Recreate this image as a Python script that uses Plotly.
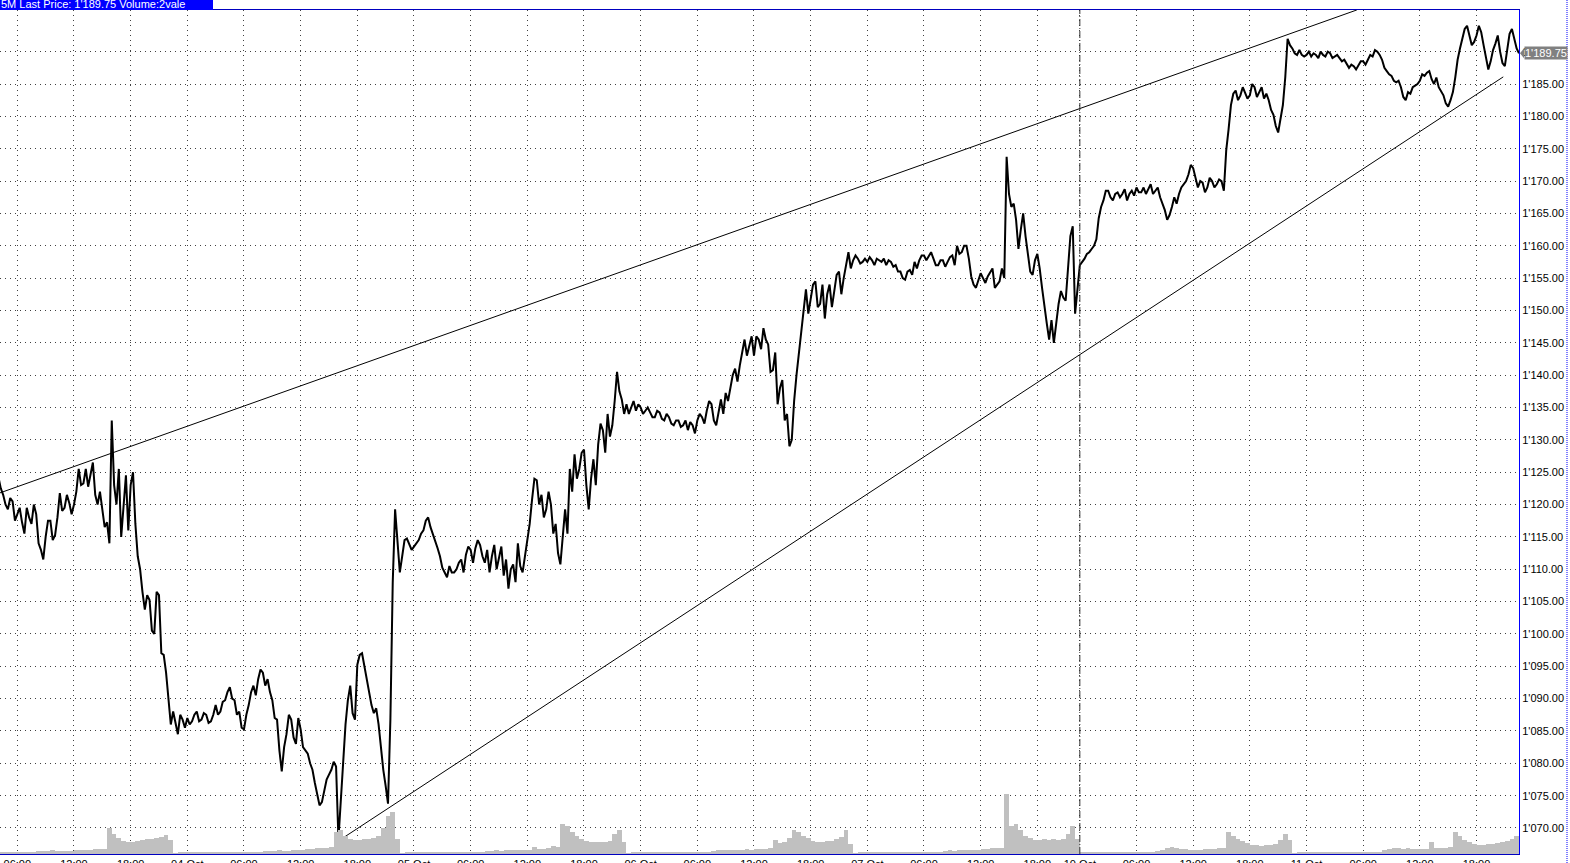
import pandas as pd
import plotly.graph_objects as go

# ---------------- data (CET) ----------------
# price_xx: values on the half hour; mid_xx: values a quarter hour later
day_starts = ["2011-10-03 04:00", "2011-10-04 00:00", "2011-10-05 00:00",
              "2011-10-06 00:00", "2011-10-07 00:00", "2011-10-10 00:00",
              "2011-10-11 00:00"]

price_03 = [1124.25, 1121.5, 1119.25, 1120.5, 1118.5, 1117.25, 1119.5, 1117.0,
            1118.5, 1113.0, 1115.0, 1117.5, 1115.25, 1121.75, 1119.5, 1120.25,
            1120.0, 1125.5, 1123.25, 1122.75, 1126.5, 1120.0, 1119.5, 1117.25,
            1133.0, 1120.0, 1115.0, 1124.5, 1123.0, 1117.0, 1110.0, 1103.75,
            1105.25, 1100.0, 1106.0, 1096.75, 1089.75, 1088.0, 1084.5, 1086.75]
mid_03 = [1122.5, 1120.0, 1121.0, 1117.5, 1119.5, 1115.5, 1118.0, 1120.0,
          1114.0, 1111.5, 1117.5, 1114.5, 1118.0, 1119.0, 1121.5, 1118.5,
          1122.0, 1123.0, 1125.5, 1124.5, 1121.5, 1122.0, 1116.5, 1114.0,
          1123.0, 1125.5, 1120.0, 1116.0, 1125.0, 1112.0, 1106.5, 1106.0,
          1100.5, 1106.5, 1097.0, 1094.0, 1086.0, 1086.0, 1087.5, 1085.5]
price_04 = [1087.0, 1086.5, 1088.0, 1086.75, 1087.5, 1086.5, 1089.0, 1088.0,
            1089.75, 1091.75, 1089.75, 1088.0, 1085.25, 1089.0, 1092.0, 1093.0,
            1094.0, 1093.0, 1089.75, 1086.75, 1078.75, 1084.5, 1086.75, 1083.0,
            1085.25, 1082.0, 1080.0, 1077.0, 1073.5, 1076.0, 1078.25, 1080.25,
            1068.25, 1080.5, 1089.75, 1087.75, 1095.25, 1097.0, 1093.25, 1089.0,
            1088.5, 1082.0, 1076.5, 1086.75, 1119.25, 1109.5, 1114.5, 1113.75]
mid_04 = [1086.0, 1087.5, 1086.5, 1087.75, 1086.25, 1087.5, 1087.5, 1089.5,
          1091.0, 1090.0, 1087.5, 1085.5, 1087.5, 1091.0, 1090.5, 1094.5,
          1092.0, 1091.0, 1087.0, 1082.0, 1082.5, 1087.5, 1084.0, 1087.0,
          1082.5, 1081.5, 1079.0, 1075.25, 1074.0, 1077.5, 1079.0, 1079.5,
          1074.5, 1086.0, 1092.0, 1086.75, 1096.75, 1095.0, 1091.0, 1087.75,
          1086.0, 1079.0, 1073.75, 1108.0, 1114.0, 1112.0, 1114.75, 1113.0]
price_05 = [1113.5, 1114.5, 1116.0, 1118.0, 1115.5, 1113.25, 1110.25, 1108.75,
            1109.5, 1110.0, 1111.5, 1112.25, 1113.0, 1113.25, 1113.75, 1111.0,
            1109.5, 1113.75, 1111.75, 1109.0, 1107.0, 1110.75, 1114.0, 1109.5,
            1113.75, 1120.75, 1123.75, 1121.5, 1119.25, 1120.0, 1117.0, 1110.75,
            1119.25, 1125.5, 1127.75, 1125.5, 1128.5, 1119.25, 1127.0, 1129.25,
            1131.5, 1134.0, 1132.25, 1140.5, 1136.25, 1135.5, 1135.0, 1134.5]
mid_05 = [1114.0, 1115.5, 1117.5, 1116.5, 1114.5, 1112.0, 1109.5, 1110.5,
          1109.5, 1111.0, 1109.5, 1113.5, 1111.0, 1114.5, 1112.0, 1113.0,
          1112.0, 1110.0, 1113.5, 1111.5, 1110.0, 1108.0, 1110.5, 1112.0,
          1117.0, 1124.0, 1120.0, 1118.0, 1122.0, 1115.5, 1112.5, 1115.0,
          1115.5, 1122.0, 1124.0, 1128.0, 1123.0, 1124.0, 1123.0, 1132.5,
          1128.0, 1130.5, 1136.0, 1137.5, 1134.0, 1134.0, 1136.0, 1135.5]
price_06 = [1135.0, 1134.5, 1134.25, 1133.5, 1134.25, 1133.0, 1133.5, 1132.25,
            1133.0, 1132.25, 1131.5, 1132.25, 1133.0, 1133.5, 1134.5, 1135.5,
            1132.25, 1136.25, 1137.25, 1138.0, 1141.0, 1141.5, 1145.5, 1144.5,
            1143.0, 1145.5, 1147.25, 1144.75, 1140.75, 1135.5, 1139.25, 1134.0,
            1130.0, 1140.0, 1147.0, 1153.25, 1151.5, 1154.5, 1151.0, 1148.75,
            1154.0, 1153.0, 1156.0, 1155.0, 1159.0, 1157.75, 1158.0, 1157.5]
mid_06 = [1134.0, 1135.0, 1133.5, 1134.5, 1133.25, 1134.0, 1132.5, 1133.0,
          1132.0, 1133.0, 1132.75, 1131.0, 1134.0, 1132.5, 1136.0, 1133.0,
          1134.5, 1134.0, 1136.0, 1140.0, 1139.0, 1143.5, 1143.0, 1146.0,
          1146.0, 1144.0, 1145.5, 1140.5, 1143.5, 1138.0, 1133.0, 1129.0,
          1136.0, 1143.5, 1149.5, 1149.5, 1154.0, 1150.5, 1154.0, 1152.5,
          1150.5, 1155.5, 1152.5, 1157.0, 1156.5, 1158.5, 1157.25, 1158.0]
price_07 = [1157.5, 1157.75, 1158.0, 1157.5, 1157.0, 1157.5, 1157.0, 1156.0,
            1154.75, 1156.25, 1157.5, 1157.75, 1158.5, 1158.5, 1158.0, 1157.0,
            1157.75, 1157.5, 1158.5, 1160.0, 1159.0, 1160.0, 1155.25, 1153.5,
            1155.75, 1154.25, 1156.0, 1153.5, 1154.5, 1155.0, 1168.0, 1166.5,
            1159.5, 1165.0, 1158.75, 1155.5, 1158.75, 1153.5, 1148.0, 1148.5,
            1148.5, 1153.0, 1151.5, 1161.5, 1149.5]
mid_07 = [1158.25, 1157.0, 1157.75, 1158.0, 1157.75, 1156.75, 1156.0, 1155.0,
          1156.0, 1155.5, 1156.5, 1158.5, 1157.75, 1159.0, 1157.0, 1157.75,
          1156.75, 1158.25, 1157.0, 1158.75, 1160.0, 1158.0, 1154.0, 1154.75,
          1155.0, 1155.25, 1156.5, 1154.0, 1156.5, 1173.75, 1166.0, 1164.0,
          1162.5, 1161.5, 1156.0, 1157.75, 1156.5, 1150.5, 1145.5, 1145.0,
          1151.0, 1152.0, 1156.5, 1163.0]
price_10 = [1157.0, 1158.0, 1159.0, 1160.0, 1164.25, 1167.0, 1168.5, 1167.0,
            1168.25, 1168.0, 1167.0, 1168.5, 1169.0, 1168.25, 1168.0, 1169.5,
            1168.5, 1167.5, 1165.5, 1164.75, 1167.5, 1168.0, 1169.5, 1171.0,
            1172.0, 1169.0, 1169.75, 1169.0, 1170.0, 1169.5, 1170.0, 1174.75,
            1181.75, 1184.0, 1183.25, 1183.75, 1183.25, 1184.5, 1183.75, 1182.75,
            1182.5, 1180.25, 1177.5, 1181.75, 1192.0, 1190.5, 1189.5, 1189.5]
mid_10 = [1157.5, 1158.75, 1159.5, 1161.0, 1166.0, 1168.5, 1167.5, 1168.0,
          1167.5, 1168.75, 1168.0, 1167.75, 1168.25, 1169.0, 1168.75, 1168.0,
          1169.0, 1166.5, 1164.0, 1166.0, 1166.5, 1169.0, 1170.0, 1172.5,
          1170.5, 1170.0, 1168.25, 1170.5, 1169.0, 1170.25, 1168.5, 1178.0,
          1183.5, 1182.5, 1184.5, 1182.75, 1185.0, 1183.0, 1184.5, 1183.5,
          1181.0, 1178.5, 1180.0, 1186.0, 1191.0, 1189.75, 1190.25, 1189.25]
price_11 = [1189.5, 1189.25, 1189.5, 1190.0, 1189.25, 1189.75, 1189.25, 1189.0,
            1188.75, 1187.5, 1187.75, 1188.0, 1188.5, 1188.75, 1189.25, 1190.0,
            1188.75, 1187.0, 1186.25, 1185.25, 1184.5, 1182.5, 1183.5, 1184.75,
            1185.5, 1186.25, 1187.0, 1185.0, 1184.5, 1183.25, 1181.5, 1183.75,
            1188.75, 1192.0, 1194.0, 1191.0, 1192.5, 1193.0, 1189.25, 1188.5,
            1191.25, 1190.0, 1187.75, 1192.75, 1191.75, 1189.75]
mid_11 = [1190.0, 1189.75, 1189.0, 1189.5, 1190.0, 1189.0, 1189.5, 1188.5,
          1188.0, 1188.0, 1187.25, 1188.5, 1188.0, 1189.5, 1190.25, 1189.5,
          1187.5, 1186.5, 1185.5, 1185.5, 1183.0, 1183.75, 1184.5, 1185.0,
          1186.5, 1186.75, 1185.75, 1186.0, 1183.75, 1182.0, 1182.5, 1186.0,
          1190.5, 1193.5, 1192.5, 1191.5, 1194.0, 1191.0, 1187.25, 1190.25,
          1192.5, 1188.25, 1190.5, 1193.5, 1190.5]

# volume, thousand contracts per 30 minutes
vol_03 = [10, 12, 11, 13, 12, 12, 14, 13,
          18, 20, 18, 22, 19, 18, 21, 20,
          22, 24, 26, 25, 28, 30, 32,
          156, 120, 96, 78, 72, 72, 78, 84, 90, 90, 96, 102, 114, 84, 4, 8, 10]
vol_04 = [10, 9, 10, 8, 9, 10, 9, 11,
          10, 11, 12, 11, 12, 14, 13, 14,
          18, 20, 19, 22, 21, 20, 22, 24,
          26, 28, 32, 35, 38, 36, 40, 132,
          144, 108, 90, 84, 84, 90, 90, 96, 108, 156, 228, 252, 90, 6, 12, 11]
vol_05 = [12, 11, 12, 10, 11, 12, 11, 12,
          12, 13, 12, 14, 15, 14, 15, 16,
          20, 22, 21, 23, 22, 24, 22, 26,
          26, 42, 28, 30, 36, 48, 40,
          180, 168, 132, 108, 90, 78, 72, 72, 72, 72, 78, 120, 144, 72, 6, 10, 11]
vol_06 = [10, 11, 10, 12, 11, 10, 12, 11,
          12, 12, 13, 14, 13, 15, 14, 16,
          22, 24, 25, 26, 24, 27, 28, 26,
          30, 32, 30, 36, 84, 66, 72, 96, 144, 132, 108, 96, 78, 72, 72, 78, 78,
          90, 102, 144, 60, 6, 9, 10]
vol_07 = [10, 9, 11, 10, 9, 10, 11, 10,
          11, 12, 12, 13, 14, 13, 15, 14,
          20, 22, 21, 24, 22, 23, 25, 26,
          30, 32, 34, 36, 36,
          360, 168, 180, 144, 108, 96, 84, 84, 90, 84, 90, 84, 90, 120, 168, 90]
vol_10 = [8, 9, 10, 9, 10, 11, 10, 12,
          11, 12, 13, 12, 14, 13, 15, 14,
          18, 22, 36, 42, 34, 30, 28, 26,
          24, 26, 28, 30, 32, 34, 36,
          132, 108, 90, 78, 66, 54, 54, 48, 54, 54, 60, 84, 120, 84, 6, 8, 9]
vol_11 = [9, 8, 10, 9, 10, 9, 11, 10,
          11, 12, 12, 13, 12, 14, 13, 15,
          22, 30, 36, 34, 32, 36, 30, 28,
          30, 32, 72, 36, 34, 38, 40,
          132, 108, 84, 72, 60, 54, 54, 60, 60, 66, 72, 78, 90, 108, 0]

upper_t = ["2011-10-03 04:10", "2011-10-11 05:20"]
upper_p = [1121.8, 1196.45]
lower_t = ["2011-10-04 16:00", "2011-10-11 20:50"]
lower_p = [1068.0, 1186.1]

last_price = 1189.75
header_text = "5M Last Price: 1'189.75 Volume:2vale"
tick_days = ["2011-10-03", "2011-10-04", "2011-10-05", "2011-10-06",
             "2011-10-07", "2011-10-10", "2011-10-11"]
tick_hours = [0, 6, 12, 18]

# ---------------- build series ----------------
prices = [price_03, price_04, price_05, price_06, price_07, price_10, price_11]
mids = [mid_03, mid_04, mid_05, mid_06, mid_07, mid_10, mid_11]
vols = [vol_03, vol_04, vol_05, vol_06, vol_07, vol_10, vol_11]

t_all, p_all, vt_all, v_all = [], [], [], []
q = pd.Timedelta(minutes=15)
for start, p, m, v in zip(day_starts, prices, mids, vols):
    ts = pd.date_range(start, periods=len(p), freq="30min")
    for i, t in enumerate(ts):
        t_all.append(t)
        p_all.append(p[i])
        if i < len(m):
            t_all.append(t + q)
            p_all.append(m[i])
        vt_all.append(t + q)
        v_all.append(v[i])

x_start = pd.Timestamp("2011-10-03 04:10")
x_end = pd.Timestamp("2011-10-11 22:30")

tickvals, ticktext = [], []
for d in tick_days:
    for h in tick_hours:
        t = pd.Timestamp(d) + pd.Timedelta(hours=h)
        if t < x_start or t > x_end:
            continue
        tickvals.append(t)
        ticktext.append(t.strftime("%d %b") if h == 0 else t.strftime("%H:%M"))

fig = go.Figure()

fig.add_trace(go.Bar(x=vt_all, y=v_all, width=1800000, yaxis="y2",
                     marker=dict(color="#c0c0c0", line=dict(width=0)),
                     hoverinfo="skip"))
fig.add_trace(go.Scatter(x=upper_t, y=upper_p, mode="lines",
                         line=dict(color="black", width=1), hoverinfo="skip"))
fig.add_trace(go.Scatter(x=lower_t, y=lower_p, mode="lines",
                         line=dict(color="black", width=1), hoverinfo="skip"))
fig.add_trace(go.Scatter(x=t_all, y=p_all, mode="lines",
                         line=dict(color="black", width=2)))

W, H = 1570, 863
ml, mr, mt, mb = 0, 51, 10, 9
plot_w = W - ml - mr
plot_h = H - mt - mb

fig.update_layout(
    width=W, height=H,
    margin=dict(l=ml, r=mr, t=mt, b=mb, pad=0, autoexpand=False),
    paper_bgcolor="white", plot_bgcolor="white",
    showlegend=False, bargap=0,
    separators=".'",
    font=dict(family="Arial, Liberation Sans, sans-serif", size=11, color="black"),
    xaxis=dict(
        type="date", range=[x_start, x_end], automargin=False,
        rangebreaks=[dict(bounds=["2011-10-07 22:30", "2011-10-10 00:00"])],
        tickmode="array", tickvals=tickvals, ticktext=ticktext,
        showgrid=True, gridcolor="#404040", gridwidth=1, griddash="1px,4px",
        showline=True, linecolor="#0000c0", linewidth=1, mirror=True,
        ticks="", zeroline=False, tickfont=dict(size=11),
    ),
    yaxis=dict(
        side="right", range=[1065.98, 1196.44], automargin=False,
        tickmode="array", tickvals=list(range(1070, 1191, 5)),
        tickformat=",.2f",
        showgrid=True, gridcolor="#404040", gridwidth=1, griddash="1px,4px",
        showline=True, linecolor="#0000ff", linewidth=1,
        ticks="", zeroline=False, tickfont=dict(size=11),
    ),
    yaxis2=dict(overlaying="y", range=[0, 5064], visible=False,
                showgrid=False, zeroline=False),
)

shapes = []
# week separator (10 Oct)
shapes.append(dict(type="line", xref="x", yref="paper",
                   x0="2011-10-10 00:00", x1="2011-10-10 00:00", y0=0, y1=1,
                   line=dict(color="#303030", width=1, dash="7px,2px,1px,2px")))
# header box
shapes.append(dict(type="rect", xref="paper", yref="paper",
                   x0=0, x1=213 / plot_w, y0=1, y1=1 + mt / plot_h,
                   fillcolor="#0000ff", line=dict(width=0), layer="above"))
# right dotted edge
shapes.append(dict(type="line", xref="paper", yref="paper",
                   x0=1567 / plot_w, x1=1567 / plot_w, y0=-mb / plot_h,
                   y1=1 + mt / plot_h,
                   line=dict(color="#0000ff", width=1, dash="1px,1px")))
# last price pointer
shapes.append(dict(type="path", xref="paper", yref="y",
                   xsizemode="pixel", ysizemode="pixel",
                   xanchor=1, yanchor=last_price,
                   path="M 1 0 L 5 -5 L 5 5 Z",
                   fillcolor="#808080", line=dict(width=0), layer="above"))
fig.update_layout(shapes=shapes)

fig.add_annotation(x=0, y=1, xref="paper", yref="paper",
                   xanchor="left", yanchor="bottom", showarrow=False,
                   text=header_text, borderpad=0, yshift=-1,
                   font=dict(color="white", size=11,
                             family="Arial, Liberation Sans, sans-serif"))
fig.add_annotation(x=1, y=last_price, xref="paper", yref="y",
                   xanchor="left", yanchor="middle", showarrow=False,
                   xshift=5, text="1'189.75", bgcolor="#808080", borderpad=0,
                   font=dict(color="white", size=11,
                             family="Arial, Liberation Sans, sans-serif"))

fig.write_html("out.html",
               config={"displayModeBar": False},
               post_script="document.body.style.margin='0px';"
                           "document.body.style.overflow='hidden';")
